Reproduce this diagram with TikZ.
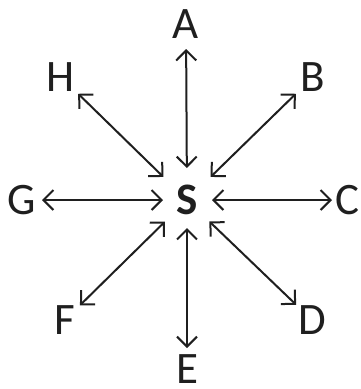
\documentclass[tikz,border=0pt]{standalone}
\usepackage{fontspec}
\setmainfont{Carlito}
\usetikzlibrary{arrows.meta}
\begin{document}
\begin{tikzpicture}[x=1pt,y=-1pt,
  lbl/.style={inner sep=0pt,font=\fontsize{45}{45}\selectfont,text=black!88},
  arr/.style={line width=2pt,black!88,{Straight Barb[length=10pt,width=20pt,line width=2pt]}-{Straight Barb[length=10pt,width=20pt,line width=2pt]}}]
\useasboundingbox (0,0) rectangle (361,389);
\node[lbl,font=\fontsize{45}{45}\selectfont\bfseries] (S) at (187,200) {S};
\node[lbl] (A) at (186,24) {A};
\node[lbl] (B) at (313,77) {B};
\node[lbl] (C) at (347,200) {C};
\node[lbl] (D) at (312,320) {D};
\node[lbl] (E) at (187,369) {E};
\node[lbl] (F) at (65,320) {F};
\node[lbl] (G) at (22,200) {G};
\node[lbl] (H) at (61,77) {H};
\draw[arr,shorten <=32pt,shorten >=25pt] (S.center) -- (A.center);
\draw[arr,shorten <=28pt,shorten >=21pt] (S.center) -- (E.center);
\draw[arr,shorten <=24pt,shorten >=20pt] (S.center) -- (G.center);
\draw[arr,shorten <=25pt,shorten >=15pt] (S.center) -- (C.center);
\draw[arr,shorten <=33pt,shorten >=24pt] (S.center) -- (H.center);
\draw[arr,shorten <=33pt,shorten >=24pt] (S.center) -- (B.center);
\draw[arr,shorten <=31pt,shorten >=21pt] (S.center) -- (F.center);
\draw[arr,shorten <=31pt,shorten >=22pt] (S.center) -- (D.center);
\end{tikzpicture}
\end{document}
